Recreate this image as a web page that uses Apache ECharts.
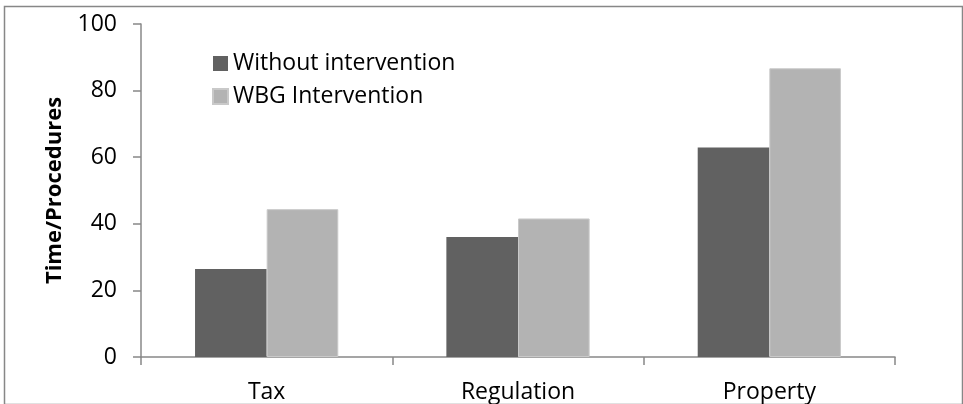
<!DOCTYPE html>
<html>
<head>
<meta charset="utf-8">
<script src="https://cdn.jsdelivr.net/npm/echarts@6/dist/echarts.min.js"></script>
<style>
html,body{margin:0;padding:0;background:#fff;}
#chart{width:963px;height:404px;}
</style>
</head>
<body>
<div id="chart"></div>
<script>
const categories = ["Tax", "Regulation", "Property"];
const seriesNames = ["Without intervention", "WBG Intervention"];
const withoutIntervention = [26.4, 36.0, 62.9];
const wbgIntervention = [44.4, 41.6, 86.7];
const yAxisTitle = "Time/Procedures";

const font = "'Open Sans', Lato, sans-serif";
const chart = echarts.init(document.getElementById('chart'), null, {renderer: 'canvas'});
chart.setOption({
  animation: false,
  backgroundColor: '#fff',
  graphic: [{
    type: 'rect', left: 2, top: 4, z: -1,
    shape: {width: 958, height: 398},
    style: {fill: 'none', stroke: '#878787', lineWidth: 1.5}
  }],
  legend: {
    left: 207, top: 47, orient: 'vertical', itemGap: 10,
    itemWidth: 15, itemHeight: 15, icon: 'rect',
    textStyle: {fontFamily: font, fontSize: 23, color: '#000'},
    data: seriesNames
  },
  grid: {left: 141, right: 68, top: 24, bottom: 47, containLabel: false},
  xAxis: {
    type: 'category', data: categories,
    axisLine: {lineStyle: {color: '#888', width: 1.5}},
    axisTick: {show: true, length: 8, alignWithLabel: false, lineStyle: {color: '#888', width: 1.5}},
    axisLabel: {fontFamily: font, fontSize: 23, color: '#000', margin: 24}
  },
  yAxis: {
    type: 'value', min: 0, max: 100, interval: 20,
    name: yAxisTitle, nameLocation: 'middle', nameGap: 75,
    nameTextStyle: {fontFamily: font, fontSize: 22, fontWeight: 'bold', color: '#000'},
    axisLine: {show: true, lineStyle: {color: '#888', width: 1.5}},
    axisTick: {show: true, inside: false, length: 8, lineStyle: {color: '#888', width: 1.5}},
    axisLabel: {fontFamily: font, fontSize: 23, color: '#000', margin: 24},
    splitLine: {show: false}
  },
  series: [
    {name: seriesNames[0], type: 'bar', data: withoutIntervention, barWidth: '28.5%', barGap: '0%',
     itemStyle: {color: '#616161'}},
    {name: seriesNames[1], type: 'bar', data: wbgIntervention, barWidth: '28.5%', barGap: '0%',
     itemStyle: {color: '#b3b3b3', borderColor: '#c9c9c9', borderWidth: 1}}
  ]
});
</script>
</body>
</html>
